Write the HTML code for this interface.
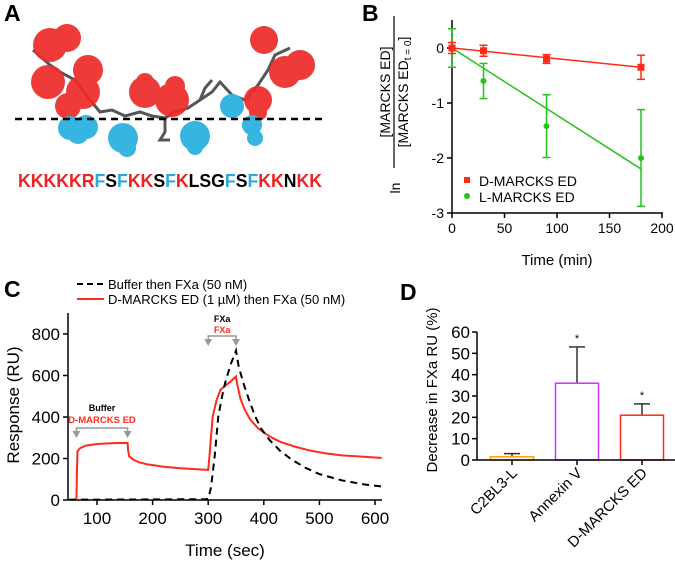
<!DOCTYPE html>
<html><head><meta charset="utf-8"><style>
html,body{margin:0;padding:0;background:#fff}
svg{display:block;font-family:"Liberation Sans",Arial,sans-serif}
</style></head><body>
<svg id="fig" width="675" height="561" viewBox="0 0 675 561" xmlns="http://www.w3.org/2000/svg">
<text x="4" y="21" font-size="23" font-weight="bold">A</text>
<text x="362" y="21" font-size="23" font-weight="bold">B</text>
<text x="4" y="297" font-size="23" font-weight="bold">C</text>
<text x="400" y="300" font-size="23" font-weight="bold">D</text>

<g>
  <polyline points="33,50 50,65 60,72 75,80 90,100 100,112 112,110 125,116 140,112 152,116 165,118 175,112 188,108 200,100 212,92 220,82 232,95 245,100 258,85 268,70 275,55 290,48" fill="none" stroke="#555" stroke-width="3"/>
  <polyline points="165,118 165,132 160,140 170,140" fill="none" stroke="#555" stroke-width="3"/>
  <polyline points="200,100 205,88 212,80" fill="none" stroke="#555" stroke-width="3"/>
  <g fill="#ee2a2a" opacity="0.92">
    <circle cx="50" cy="45" r="17"/><circle cx="67" cy="38" r="14"/>
    <circle cx="48" cy="82" r="17"/><circle cx="88" cy="70" r="15"/>
    <circle cx="83" cy="92" r="17"/><circle cx="68" cy="106" r="13"/>
    <circle cx="145" cy="92" r="16"/><circle cx="145" cy="82" r="9"/>
    <circle cx="172" cy="100" r="17"/><circle cx="175" cy="86" r="10"/>
    <circle cx="264" cy="40" r="14"/><circle cx="300" cy="65" r="15"/>
    <circle cx="285" cy="72" r="16"/><circle cx="258" cy="100" r="14"/>
    <circle cx="258" cy="112" r="9"/>
  </g>
  <g fill="#35b5e0">
    <circle cx="70" cy="128" r="12"/><circle cx="86" cy="127" r="12"/><circle cx="78" cy="133" r="11"/>
    <circle cx="123" cy="138" r="15"/><circle cx="127" cy="148" r="9"/>
    <circle cx="195" cy="136" r="15"/><circle cx="195" cy="147" r="8"/>
    <circle cx="232" cy="106" r="12"/>
    <circle cx="252" cy="125" r="10"/><circle cx="255" cy="138" r="8"/>
  </g>
  <line x1="15" y1="119" x2="325" y2="119" stroke="#000" stroke-width="2.5" stroke-dasharray="7,5"/>
</g>
<text x="18" y="187" font-size="18" font-weight="bold" textLength="304" lengthAdjust="spacingAndGlyphs"><tspan fill="#ee2222">KKKKKR</tspan><tspan fill="#2aa8e0">F</tspan><tspan fill="#000">S</tspan><tspan fill="#2aa8e0">F</tspan><tspan fill="#ee2222">KK</tspan><tspan fill="#000">S</tspan><tspan fill="#2aa8e0">F</tspan><tspan fill="#ee2222">K</tspan><tspan fill="#000">LSG</tspan><tspan fill="#2aa8e0">F</tspan><tspan fill="#000">S</tspan><tspan fill="#2aa8e0">F</tspan><tspan fill="#ee2222">KK</tspan><tspan fill="#000">N</tspan><tspan fill="#ee2222">KK</tspan></text>

<g id="panelB"></g>
<g id="panelC"></g>
<g id="panelD"></g>
</svg>
<script>
// ---- Panel B data ----
const bTimes = [0, 30, 90, 180];
const bDVals = [0, -0.05, -0.2, -0.35];
const bDErr = [0.1, 0.1, 0.08, 0.22];
const bLVals = [0, -0.6, -1.42, -2.0];
const bLErr = [0.35, 0.32, 0.57, 0.88];
const bDFit = [0, -0.35];
const bLFit = [0, -2.2];
const bXTicks = [0, 50, 100, 150, 200];
const bYTicks = [0, -1, -2, -3];
// ---- Panel C data ----
const cRedT = [50,63,64,65,70,80,100,130,155,156,158,165,175,190,220,250,280,300,302,308,315,322,330,340,350,352,358,365,375,390,400,415,430,455,480,510,540,570,600,612];
const cRedV = [0,0,150,235,250,262,270,274,275,240,210,195,182,172,160,153,148,145,200,400,480,530,550,570,595,560,490,440,390,345,325,300,280,258,240,225,215,210,205,203];
const cBlkT = [50,100,200,295,300,305,312,318,325,330,340,350,355,365,375,385,395,410,430,450,475,500,540,580,612];
const cBlkV = [2,2,3,4,5,60,220,400,500,560,650,720,640,550,470,400,345,290,235,195,155,125,95,75,65];
const cXTicks = [100, 200, 300, 400, 500, 600];
const cYTicks = [0, 200, 400, 600, 800];
// ---- Panel D data ----
const dCats = ["C2BL3-L", "Annexin V", "D-MARCKS ED"];
const dVals = [1.5, 36, 21];
const dErrTop = [3, 53, 26.3];
const dStars = [false, true, true];
const dYTicks = [0, 10, 20, 30, 40, 50, 60];

const NS = "http://www.w3.org/2000/svg";
function mk(parent, tag, attrs, text) {
  const e = document.createElementNS(NS, tag);
  for (const k in attrs) e.setAttribute(k, attrs[k]);
  if (text !== undefined) e.textContent = text;
  parent.appendChild(e);
  return e;
}

(function(){
  const g = document.getElementById('panelB');
  const xB = v => 452 + (v - 0) * (210 / 200);
  const yB = v => 48 + (0 - v) * (165 / 3);
  let e;
  e = mk(g, 'line', {x1:452, y1:20, x2:452, y2:213, stroke:'#000', 'stroke-width':1.5});
   
  e = mk(g, 'line', {x1:452, y1:213, x2:663, y2:213, stroke:'#000', 'stroke-width':1.5});
   
  bYTicks.forEach(t => {
    mk(g, 'line', {x1:447, y1:yB(t), x2:452, y2:yB(t), stroke:'#000', 'stroke-width':1.5});
    e = mk(g, 'text', {x:444, y:yB(t)+5, 'font-size':14, 'text-anchor':'end'}, String(t));
     
  });
  bXTicks.forEach(t => {
    mk(g, 'line', {x1:xB(t), y1:213, x2:xB(t), y2:218, stroke:'#000', 'stroke-width':1.5});
    e = mk(g, 'text', {x:xB(t), y:233, 'font-size':14, 'text-anchor':'middle'}, String(t));
     
  });
  e = mk(g, 'text', {x:557, y:265, 'font-size':15, 'text-anchor':'middle'}, 'Time (min)');
   
  const yt = mk(g, 'g', {transform:'translate(394,92) rotate(-90)'});
   
  mk(yt, 'text', {x:0, y:-4, 'font-size':14, 'text-anchor':'middle'}, '[MARCKS ED]');
  mk(yt, 'line', {x1:-76, y1:0, x2:76, y2:0, stroke:'#000', 'stroke-width':1.2});
  const den = mk(yt, 'text', {x:0, y:14, 'font-size':14, 'text-anchor':'middle'});
  den.innerHTML = '[MARCKS ED<tspan font-size="10" dy="3">t = 0</tspan><tspan dy="-3">]</tspan>';
  mk(yt, 'text', {x:-96, y:6, 'font-size':14, 'text-anchor':'middle'}, 'ln');
  e = mk(g, 'line', {x1:xB(bTimes[0]), y1:yB(bDFit[0]), x2:xB(bTimes[3]), y2:yB(bDFit[1]), stroke:'#ff2a1a', 'stroke-width':1.5});
   
  e = mk(g, 'line', {x1:xB(bTimes[0]), y1:yB(bLFit[0]), x2:xB(bTimes[3]), y2:yB(bLFit[1]), stroke:'#22c41a', 'stroke-width':1.5});
   
  function series(vals, errs, col, square, name) {
    bTimes.forEach((t, i) => {
      const x = xB(t), y = vals[i];
      mk(g, 'line', {x1:x, y1:yB(y+errs[i]), x2:x, y2:yB(y-errs[i]), stroke:col, 'stroke-width':1.5});
      mk(g, 'line', {x1:x-4, y1:yB(y+errs[i]), x2:x+4, y2:yB(y+errs[i]), stroke:col, 'stroke-width':1.5});
      mk(g, 'line', {x1:x-4, y1:yB(y-errs[i]), x2:x+4, y2:yB(y-errs[i]), stroke:col, 'stroke-width':1.5});
      let m;
      if (square) m = mk(g, 'rect', {x:x-3.5, y:yB(y)-3.5, width:7, height:7, fill:col});
      else m = mk(g, 'circle', {cx:x, cy:yB(y), r:3, fill:col});
       
    });
  }
  series(bLVals, bLErr, '#22c41a', false, 'b-l-point');
  series(bDVals, bDErr, '#ff2a1a', true, 'b-d-point');
  e = mk(g, 'rect', {x:464, y:177, width:6, height:6, fill:'#ff2a1a'});
   
  e = mk(g, 'text', {x:479, y:186, 'font-size':14}, 'D-MARCKS ED');
   
  e = mk(g, 'circle', {cx:467, cy:196, r:3, fill:'#22c41a'});
   
  e = mk(g, 'text', {x:479, y:202, 'font-size':14}, 'L-MARCKS ED');
   
})();

(function(){
  const g = document.getElementById('panelC');
  const xC = v => 97 + (v - 100) * (278 / 500);
  const yC = v => 500 - v * (166 / 800);
  let e;
  e = mk(g, 'line', {x1:68, y1:313, x2:68, y2:500, stroke:'#000', 'stroke-width':1.5});
   
  e = mk(g, 'line', {x1:68, y1:500, x2:382, y2:500, stroke:'#000', 'stroke-width':1.5});
   
  cYTicks.forEach(t => {
    mk(g, 'line', {x1:63, y1:yC(t), x2:68, y2:yC(t), stroke:'#000', 'stroke-width':1.5});
    e = mk(g, 'text', {x:60, y:yC(t)+6, 'font-size':17, 'text-anchor':'end'}, String(t));
     
  });
  cXTicks.forEach(t => {
    mk(g, 'line', {x1:xC(t), y1:500, x2:xC(t), y2:505, stroke:'#000', 'stroke-width':1.5});
    e = mk(g, 'text', {x:xC(t), y:524, 'font-size':17, 'text-anchor':'middle'}, String(t));
     
  });
  e = mk(g, 'text', {x:225, y:556, 'font-size':17, 'text-anchor':'middle'}, 'Time (sec)');
   
  e = mk(g, 'text', {x:0, y:0, 'font-size':17, 'text-anchor':'middle', transform:'translate(19,405) rotate(-90)'}, 'Response (RU)');
   
  const pts = (T, V) => T.map((t, i) => xC(t).toFixed(1) + ',' + yC(V[i]).toFixed(1)).join(' ');
  e = mk(g, 'polyline', {points:pts(cRedT, cRedV).split(' ').filter((p,i)=>cRedT[i]>=63).join(' '), fill:'none', stroke:'#ff2a1a', 'stroke-width':2});
   
  e = mk(g, 'polyline', {points:pts(cBlkT, cBlkV), fill:'none', stroke:'#000', 'stroke-width':2, 'stroke-dasharray':'7,5'});
   
  function bracket(t1, t2, yy, name) {
    const b = mk(g, 'g', {});
     
    const x1 = xC(t1), x2 = xC(t2);
    mk(b, 'polyline', {points:`${x1},${yy+6} ${x1},${yy} ${x2},${yy} ${x2},${yy+6}`, fill:'none', stroke:'#999', 'stroke-width':1.5});
    mk(b, 'polygon', {points:`${x1-4},${yy+3} ${x1+4},${yy+3} ${x1},${yy+10}`, fill:'#999'});
    mk(b, 'polygon', {points:`${x2-4},${yy+3} ${x2+4},${yy+3} ${x2},${yy+10}`, fill:'#999'});
  }
  bracket(63, 155, 428, 'c-injection-bracket-1');
  bracket(300, 350, 336, 'c-injection-bracket-2');
  e = mk(g, 'text', {x:xC(109), y:411, 'font-size':9, 'font-weight':'bold', 'text-anchor':'middle'}, 'Buffer');
   
  e = mk(g, 'text', {x:xC(109), y:423, 'font-size':9.5, 'font-weight':'bold', fill:'#ff2a1a', 'text-anchor':'middle'}, 'D-MARCKS ED');
   
  e = mk(g, 'text', {x:xC(325), y:322, 'font-size':9, 'font-weight':'bold', 'text-anchor':'middle'}, 'FXa');
   
  e = mk(g, 'text', {x:xC(325), y:333, 'font-size':9, 'font-weight':'bold', fill:'#ff2a1a', 'text-anchor':'middle'}, 'FXa');
   
  e = mk(g, 'line', {x1:77, y1:284, x2:104, y2:284, stroke:'#000', 'stroke-width':2, 'stroke-dasharray':'6,4'});
   
  e = mk(g, 'text', {x:108, y:289, 'font-size':13}, 'Buffer then FXa (50 nM)');
   
  e = mk(g, 'line', {x1:77, y1:299, x2:104, y2:299, stroke:'#ff2a1a', 'stroke-width':2});
   
  e = mk(g, 'text', {x:108, y:304, 'font-size':13}, 'D-MARCKS ED (1 µM) then FXa (50 nM)');
   
})();

(function(){
  const g = document.getElementById('panelD');
  const yD = v => 460 - v * (128 / 60);
  const xD = i => 512 + i * 65;
  const bw = 43;
  const cols = ['#ffa000', '#cc33ff', '#ff2a1a'];
  let e;
  e = mk(g, 'line', {x1:477, y1:332, x2:477, y2:460, stroke:'#000', 'stroke-width':1.5});
   
  dYTicks.forEach(t => {
    mk(g, 'line', {x1:472, y1:yD(t), x2:477, y2:yD(t), stroke:'#000', 'stroke-width':1.5});
    e = mk(g, 'text', {x:470, y:yD(t)+6, 'font-size':17, 'text-anchor':'end'}, String(t));
     
  });
  e = mk(g, 'text', {x:0, y:0, 'font-size':15, 'text-anchor':'middle', transform:'translate(437,390) rotate(-90)'}, 'Decrease in FXa RU (%)');
   
  dCats.forEach((c, i) => {
    const cx = xD(i);
    mk(g, 'line', {x1:cx, y1:yD(dVals[i]), x2:cx, y2:yD(dErrTop[i]), stroke:'#333', 'stroke-width':1.5});
    mk(g, 'line', {x1:cx-8, y1:yD(dErrTop[i]), x2:cx+8, y2:yD(dErrTop[i]), stroke:'#333', 'stroke-width':1.5});
    e = mk(g, 'rect', {x:cx-bw/2, y:yD(dVals[i]), width:bw, height:460-yD(dVals[i]), fill:'#fff', stroke:cols[i], 'stroke-width':1.5});
     
    if (dStars[i]) {
      e = mk(g, 'text', {x:cx, y:yD(dErrTop[i])-5, 'font-size':11, 'text-anchor':'middle'}, '*');
       
    }
    mk(g, 'line', {x1:cx, y1:460, x2:cx, y2:465, stroke:'#000', 'stroke-width':1.5});
    e = mk(g, 'text', {x:0, y:0, 'font-size':15, 'text-anchor':'end', transform:`translate(${cx+6},${474}) rotate(-45)`}, c);
     
  });
  e = mk(g, 'line', {x1:477, y1:460, x2:675, y2:460, stroke:'#000', 'stroke-width':1.5});
   
})();
</script>
</body></html>
